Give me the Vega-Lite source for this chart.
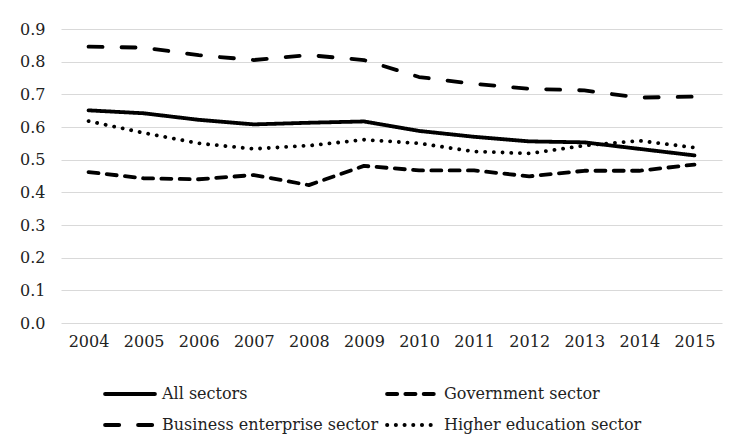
{
  "$schema": "https://vega.github.io/schema/vega-lite/v6.json",
  "width": 661,
  "height": 294,
  "autosize": {"type": "none"},
  "padding": {"left": 61, "top": 29, "right": 12, "bottom": 120},
  "background": "white",
  "data": {
    "values": [
      {"year": "2004", "sector": "All sectors", "value": 0.651},
      {"year": "2005", "sector": "All sectors", "value": 0.642},
      {"year": "2006", "sector": "All sectors", "value": 0.622},
      {"year": "2007", "sector": "All sectors", "value": 0.608},
      {"year": "2008", "sector": "All sectors", "value": 0.613},
      {"year": "2009", "sector": "All sectors", "value": 0.617},
      {"year": "2010", "sector": "All sectors", "value": 0.588},
      {"year": "2011", "sector": "All sectors", "value": 0.570},
      {"year": "2012", "sector": "All sectors", "value": 0.556},
      {"year": "2013", "sector": "All sectors", "value": 0.553},
      {"year": "2014", "sector": "All sectors", "value": 0.533},
      {"year": "2015", "sector": "All sectors", "value": 0.513},
      {"year": "2004", "sector": "Government sector", "value": 0.462},
      {"year": "2005", "sector": "Government sector", "value": 0.443},
      {"year": "2006", "sector": "Government sector", "value": 0.440},
      {"year": "2007", "sector": "Government sector", "value": 0.453},
      {"year": "2008", "sector": "Government sector", "value": 0.422},
      {"year": "2009", "sector": "Government sector", "value": 0.481},
      {"year": "2010", "sector": "Government sector", "value": 0.467},
      {"year": "2011", "sector": "Government sector", "value": 0.467},
      {"year": "2012", "sector": "Government sector", "value": 0.449},
      {"year": "2013", "sector": "Government sector", "value": 0.466},
      {"year": "2014", "sector": "Government sector", "value": 0.466},
      {"year": "2015", "sector": "Government sector", "value": 0.485},
      {"year": "2004", "sector": "Business enterprise sector", "value": 0.846},
      {"year": "2005", "sector": "Business enterprise sector", "value": 0.843},
      {"year": "2006", "sector": "Business enterprise sector", "value": 0.820},
      {"year": "2007", "sector": "Business enterprise sector", "value": 0.805},
      {"year": "2008", "sector": "Business enterprise sector", "value": 0.820},
      {"year": "2009", "sector": "Business enterprise sector", "value": 0.805},
      {"year": "2010", "sector": "Business enterprise sector", "value": 0.753},
      {"year": "2011", "sector": "Business enterprise sector", "value": 0.732},
      {"year": "2012", "sector": "Business enterprise sector", "value": 0.717},
      {"year": "2013", "sector": "Business enterprise sector", "value": 0.712},
      {"year": "2014", "sector": "Business enterprise sector", "value": 0.690},
      {"year": "2015", "sector": "Business enterprise sector", "value": 0.693},
      {"year": "2004", "sector": "Higher education sector", "value": 0.618},
      {"year": "2005", "sector": "Higher education sector", "value": 0.582},
      {"year": "2006", "sector": "Higher education sector", "value": 0.550},
      {"year": "2007", "sector": "Higher education sector", "value": 0.533},
      {"year": "2008", "sector": "Higher education sector", "value": 0.543},
      {"year": "2009", "sector": "Higher education sector", "value": 0.561},
      {"year": "2010", "sector": "Higher education sector", "value": 0.550},
      {"year": "2011", "sector": "Higher education sector", "value": 0.525},
      {"year": "2012", "sector": "Higher education sector", "value": 0.519},
      {"year": "2013", "sector": "Higher education sector", "value": 0.543},
      {"year": "2014", "sector": "Higher education sector", "value": 0.558},
      {"year": "2015", "sector": "Higher education sector", "value": 0.537}
    ]
  },
  "mark": {"type": "line", "color": "black", "strokeWidth": 3.8, "strokeCap": "round", "strokeJoin": "round"},
  "encoding": {
    "x": {
      "field": "year", "type": "ordinal", "title": null,
      "scale": {"type": "point", "padding": 0.5},
      "axis": {"labelAngle": 0, "domain": false, "ticks": false, "labelPadding": 10, "grid": false}
    },
    "y": {
      "field": "value", "type": "quantitative", "title": null,
      "scale": {"domain": [0, 0.9], "nice": false},
      "axis": {"values": [0, 0.1, 0.2, 0.3, 0.4, 0.5, 0.6, 0.7, 0.8, 0.9], "format": ".1f", "domain": false, "ticks": false, "labelPadding": 16, "gridColor": "#d9d9d9", "gridWidth": 1.2}
    },
    "strokeDash": {
      "field": "sector", "type": "nominal",
      "scale": {
        "domain": ["All sectors", "Government sector", "Business enterprise sector", "Higher education sector"],
        "range": [[1, 0], [10, 8.3], [14, 19], [0.1, 8.6]]
      },
      "legend": {
        "title": null, "orient": "none", "legendX": 50, "legendY": 346,
        "columns": 2, "direction": "horizontal",
        "symbolType": "M-1.5,0H1.5", "symbolSize": 1100, "symbolStrokeWidth": 4, "symbolStrokeColor": "black", "symbolFillColor": "transparent",
        "labelFont": "DejaVu Serif", "labelFontSize": 16, "labelColor": "#222", "labelOffset": 13,
        "columnPadding": 0, "rowPadding": 4, "padding": 0, "labelLimit": 400,
        "encode": {"symbols": {"update": {"strokeCap": {"value": "round"}}}}
      }
    }
  },
  "config": {
    "view": {"stroke": null},
    "axis": {"labelFont": "DejaVu Serif", "labelFontSize": 16, "labelColor": "#222"}
  }
}
